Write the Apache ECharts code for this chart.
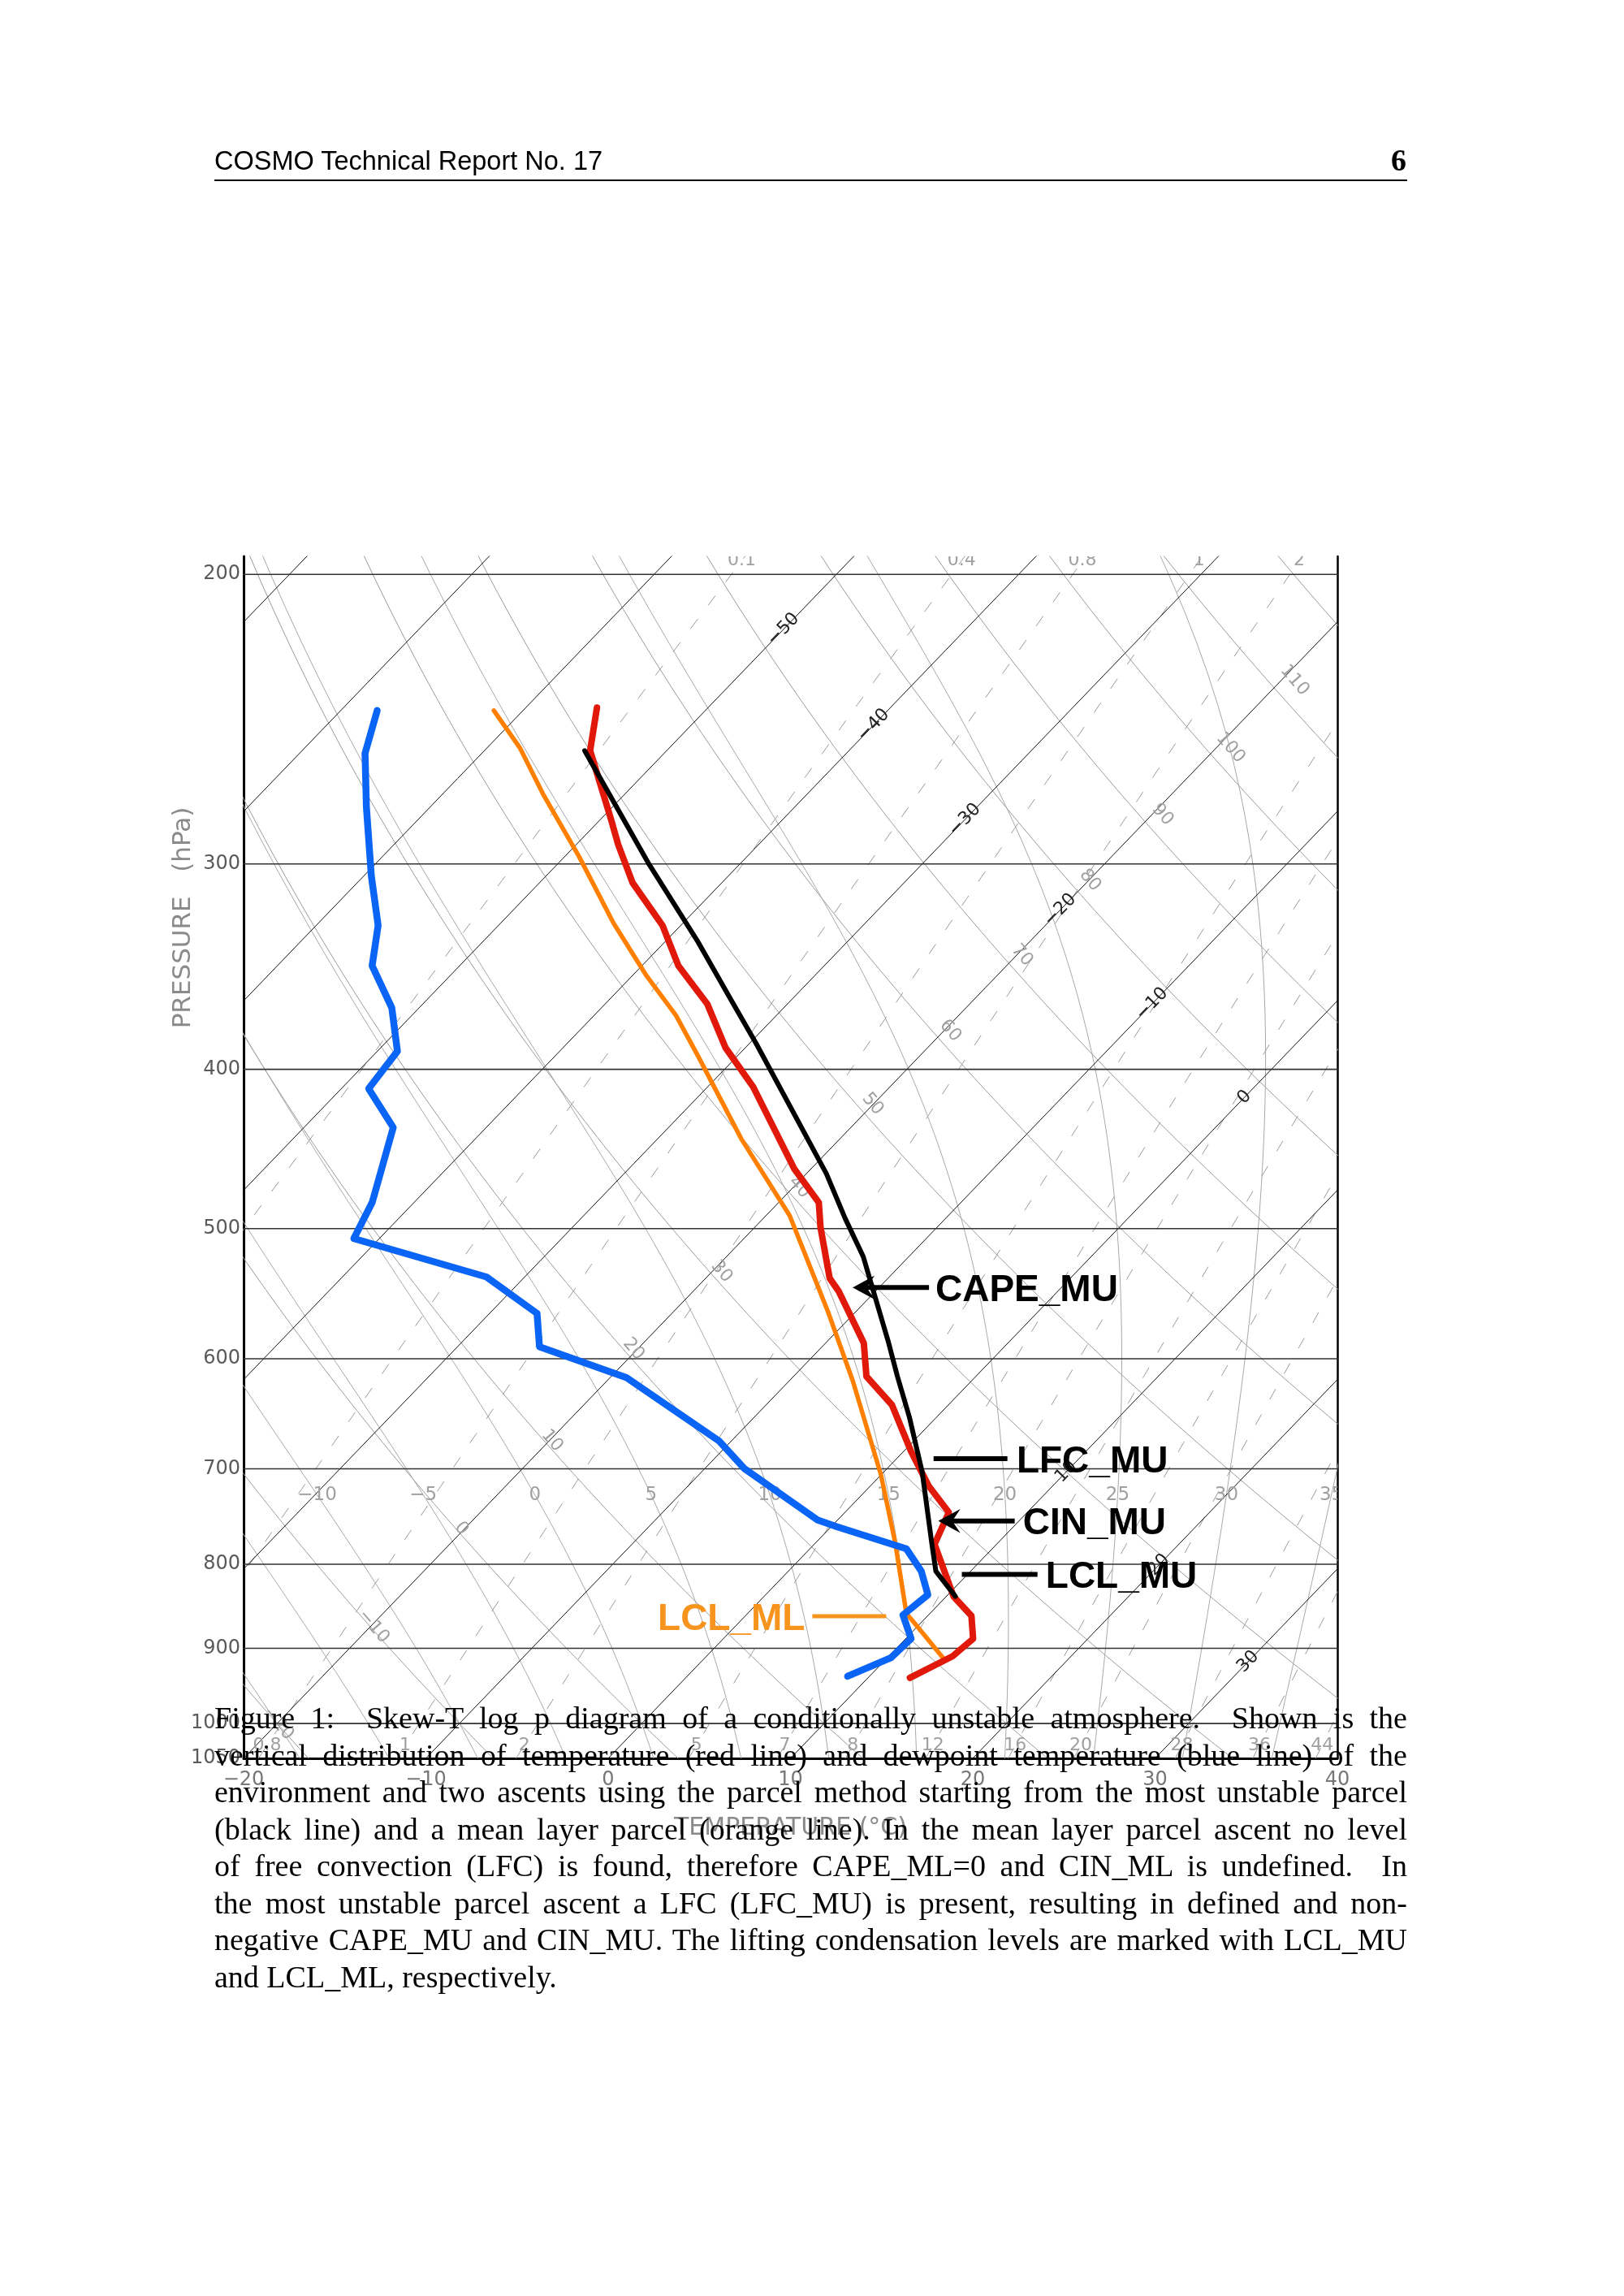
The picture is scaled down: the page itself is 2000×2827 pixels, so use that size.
<!DOCTYPE html>
<html>
<head>
<meta charset="utf-8">
<title>Skew-T log p diagram</title>
<script src="https://cdn.jsdelivr.net/npm/echarts@6/dist/echarts.min.js"></script>
<style>
  html, body { margin: 0; padding: 0; background: #fff; }
  #page { position: relative; width: 2000px; height: 2827px; overflow: hidden; }
  #chart { position: absolute; left: 0; top: 0; width: 2000px; height: 2827px; }
  .hdr { position: absolute; left: 264px; top: 181px; font-family: "Liberation Sans", Arial, sans-serif; font-size: 32.5px; line-height: 34px; }
  .pgno { position: absolute; right: 268px; top: 178px; font-family: "Liberation Serif", serif; font-weight: bold; font-size: 38px; line-height: 38px; }
  .rule { position: absolute; left: 264px; top: 221px; width: 1469px; height: 2px; background: #000; }
  #caption { position: absolute; left: 264px; top: 2093px; width: 1469px; font-family: "Liberation Serif", "Times New Roman", serif; font-size: 38px; line-height: 45.5px; color: #000; }
  #caption div { text-align: justify; text-align-last: justify; white-space: nowrap; }
  #caption div.last { text-align-last: left; }
  #probe { position: absolute; visibility: hidden; white-space: nowrap; font-family: "Liberation Serif", "Times New Roman", serif; }
</style>
</head>
<body>
<div id="page">
  <div id="chart"></div>
  <div class="hdr">COSMO Technical Report No. 17</div>
  <div class="pgno">6</div>
  <div class="rule"></div>
  <div id="caption">
    <div>Figure 1:&nbsp; Skew-T log p diagram of a conditionally unstable atmosphere.&nbsp; Shown is the</div>
    <div>vertical distribution of temperature (red line) and dewpoint temperature (blue line) of the</div>
    <div>environment and two ascents using the parcel method starting from the most unstable parcel</div>
    <div>(black line) and a mean layer parcel (orange line). In the mean layer parcel ascent no level</div>
    <div>of free convection (LFC) is found, therefore CAPE_ML=0 and CIN_ML is undefined.&nbsp; In</div>
    <div>the most unstable parcel ascent a LFC (LFC_MU) is present, resulting in defined and non-</div>
    <div>negative CAPE_MU and CIN_MU. The lifting condensation levels are marked with LCL_MU</div>
    <div class="last">and LCL_ML, respectively.</div>
  </div>
  <span id="probe"></span>
</div>
<script>
// environment sounding (temperature, °C / pressure, hPa)
const tempT = [-56.1, -54.2, -49.4, -47.7, -44.9, -41.0, -38.0, -34.4, -31.1, -27.5, -20.9, -17.8, -16.4, -13.2,
  -12.0, -7.9, -6.0, -3.1, 0.4, 3.2, 5.7, 6.6, 10.4, 12.4, 13.7, 13.5, 12.3];
const tempP = [241, 256, 282, 292, 308, 327, 346, 365, 388, 410, 460, 482, 499, 536,
  546, 587, 615, 640, 683, 717, 744, 778, 837, 860, 888, 910, 938];
// dewpoint
const dewT = [-68.0, -66.4, -63.5, -59.6, -56.6, -54.8, -51.5, -48.9, -48.5, -45.1, -42.3, -41.4, -32.1, -27.4,
  -25.5, -19.1, -10.7, -7.8, -1.1, 0.3, 5.3, 7.3, 8.9, 8.6, 10.3, 10.2, 8.8];
const dewP = [242, 257, 277, 305, 327, 346, 367, 390, 411, 434, 482, 507, 535, 563,
  590, 616, 673, 700, 752, 759, 783, 808, 835, 859, 888, 912, 936];
// most unstable parcel
const muT = [-54.5, -45.0, -38.3, -33.3, -29.6, -18.9, -15.5, -12.5, -10.1, -6.7, -4.3, -1.5, 2.1, 6.4, 8.1, 10.5];
const muP = [256, 300, 334, 363, 386, 463, 493, 520, 546, 585, 615, 651, 703, 777, 808, 837];
// mean layer parcel
const mlT = [-61.6, -58.2, -54.5, -49.2, -43.8, -39.2, -35.5, -32.1, -25.4, -18.7, -11.5, -6.5, 0.0, 4.4, 8.7, 10.4, 13.2];
const mlP = [242, 255, 272, 297, 326, 351, 371, 393, 441, 491, 562, 619, 706, 777, 857, 878, 914];

// background diagram
const isobars = [200, 300, 400, 500, 600, 700, 800, 900, 1000];
const pressureTicks = [200, 300, 400, 500, 600, 700, 800, 900, 1000, 1050];
const isotherms = [-90, -80, -70, -60, -50, -40, -30, -20, -10, 0, 10, 20, 30, 40];
const isothermLabels = [-50, -40, -30, -20, -10, 0, 10, 20, 30];
const isothermLabelP = [216, 247, 282, 320, 365, 416, 703, 801, 917];
const dryThetas = [-30, -20, -10, 0, 10, 20, 30, 40, 50, 60, 70, 80, 90, 100, 110, 120, 130];
const dryLabels = [110, 100, 90, 80, 70, 60, 50, 40, 30, 20, 10, 0, -10, -20];
const dryLabelP = [232, 255, 280, 307, 341, 379, 420, 472, 531, 592, 673, 761, 873, 1000];
const moistThetas = [-20, -15, -10, -5, 0, 5, 10, 15, 20, 25, 30, 35, 40];
const moistLabels = [-10, -5, 0, 5, 10, 15, 20, 25, 30, 35];
const mixRatios = [0.1, 0.4, 0.8, 1.5, 2.5, 5, 7, 9, 12, 16, 20, 28, 36, 44]; // g/kg
const mixLabels = ['0.1', '0.4', '0.8', '1', '2', '5', '7', '8', '12', '16', '20', '28', '36', '44'];

const P_BOT = 1050, P_TOP = 195;
const SKEW = 37.7; // °C shift per unit of ln p
const skx = (t, p) => t + SKEW * Math.log(P_BOT / p);
const minus = (v) => (v < 0 ? '\u2212' + (-v) : String(v));

// thermodynamics for the moist adiabats / mixing ratio lines
const Rd = 287.04, Cp = 1005.7, Lv = 2.501e6, EPS = 0.622;
const es = (tk) => 6.112 * Math.exp(17.67 * (tk - 273.15) / (tk - 29.65));
function lapse(tk, p) {
  const e = es(tk);
  const rs = EPS * e / (p - e);
  return (Rd * tk + Lv * rs) / (p * (Cp + Lv * Lv * rs * EPS / (Rd * tk * tk)));
}
function moistCurve(thw) {
  const up = [], down = [];
  let t = thw + 273.15, p = 1000;
  while (p > 194) {
    if (p % 10 === 0) up.push([t - 273.15, p]);
    const k1 = lapse(t, p), k2 = lapse(t - 2 * k1, p - 2);
    t -= k1 + k2; p -= 2;
  }
  up.push([t - 273.15, p]);
  t = thw + 273.15; p = 1000;
  while (p < 1052) {
    const k1 = lapse(t, p), k2 = lapse(t + 2 * k1, p + 2);
    t += k1 + k2; p += 2;
    if (p % 10 === 0) down.push([t - 273.15, p]);
  }
  return down.reverse().concat(up);
}
function moistAt(thw, pt) {
  let t = thw + 273.15, p = 1000;
  while (p > pt) {
    const k1 = lapse(t, p), k2 = lapse(t - 2 * k1, p - 2);
    t -= k1 + k2; p -= 2;
  }
  return t - 273.15;
}
const dryT = (th, p) => (th + 273.15) * Math.pow(p / 1000, 0.2857) - 273.15;
function dewFromMix(w, p) {
  const l = Math.log((w * p / (622 + w)) / 6.112);
  return 243.5 * l / (17.67 - l);
}

const levels = [];
for (let p = P_BOT; p >= 190; p -= 5) levels.push(p);

const series = [];
function addLine(pts, color, width, z, dash) {
  series.push({
    type: 'line', data: pts, showSymbol: false, symbol: 'none', silent: true, clip: true, z: z,
    lineStyle: { color: color, width: width, type: dash || 'solid', cap: 'round', join: 'round' },
  });
}

isotherms.forEach((t) => addLine([[skx(t, P_BOT), P_BOT], [skx(t, 190), 190]], '#111', 1, 2));
dryThetas.forEach((th) => addLine(levels.map((p) => [skx(dryT(th, p), p), p]), '#9a9a9a', 1, 1));
moistThetas.forEach((thw) => addLine(moistCurve(thw).map((d) => [skx(d[0], d[1]), d[1]]), '#a8a8a8', 1, 1));
mixRatios.forEach((w) => addLine(levels.filter((p, i) => i % 3 === 0 || p < 195)
  .map((p) => [skx(dewFromMix(w, p), p), p]), '#9a9a9a', 1, 1, [14, 22]));
isobars.forEach((p) => addLine([[-20, p], [40, p]], '#333', 1.6, 3));

// sounding curves
const zip = (ts, ps) => ts.map((t, i) => [skx(t, ps[i]), ps[i]]);
addLine(zip(mlT, mlP), '#ff8000', 5.5, 10);
addLine(zip(dewT, dewP), '#0a64f5', 8.5, 11);
addLine(zip(tempT, tempP), '#e0190a', 8, 12);
addLine(zip(muT, muP), '#000', 6, 13);

// text labels placed in data coordinates
function addLabels(items, o) {
  series.push({
    type: 'custom', silent: true, clip: !!o.clip, z: o.z || 5,
    data: items.map((it, i) => [it.x, it.p, i]),
    renderItem: (params, api) => {
      const it = items[api.value(2)];
      const pt = api.coord([api.value(0), api.value(1)]);
      return {
        type: 'text', x: pt[0] + (o.dx || 0) + (it.dx || 0), y: pt[1], rotation: o.rotation || 0,
        style: { text: it.text, fill: o.color, fontSize: o.size || 22, fontFamily: 'DejaVu Sans',
          align: o.align || 'center', verticalAlign: 'middle' },
      };
    },
  });
}
addLabels(isothermLabels.map((t, i) => ({ x: skx(t, isothermLabelP[i]), p: isothermLabelP[i], text: minus(t) })),
  { color: '#222', rotation: 0.805, clip: true });
// dry adiabat labels sit a little to the right of their lines, more so higher up
addLabels(dryLabels.map((th, i) => ({
  x: skx(dryT(th, dryLabelP[i]), dryLabelP[i]), p: dryLabelP[i], text: minus(th),
  dx: 22 * Math.log(P_BOT / dryLabelP[i]),
})), { color: '#a0a0a0', rotation: -0.86, clip: true });
addLabels(moistLabels.map((thw) => ({ x: skx(moistAt(thw, 726), 726), p: 726, text: minus(thw) })),
  { color: '#a0a0a0', size: 23, clip: true });
addLabels(mixRatios.map((w, i) => ({ x: skx(dewFromMix(w, 196.2), 196.2), p: 196.2, text: mixLabels[i] })),
  { color: '#a0a0a0', clip: true });
addLabels(mixRatios.map((w, i) => ({ x: skx(dewFromMix(w, 1031), 1031), p: 1031, text: mixLabels[i] })),
  { color: '#a0a0a0', clip: true });
addLabels(pressureTicks.map((p) => ({ x: -20, p: p, text: String(p) })),
  { color: '#5a5a5a', align: 'right', dx: -4, size: 24 });

// annotations: horizontal markers with optional arrowheads
const notes = [
  { text: 'CAPE_MU', p: 543, x1: 13.5, x2: 17.6, tx: 17.95, arrow: true, color: '#000' },
  { text: 'LFC_MU', p: 690, x1: 17.85, x2: 21.9, tx: 22.4, arrow: false, color: '#000' },
  { text: 'CIN_MU', p: 753, x1: 18.2, x2: 22.3, tx: 22.75, arrow: true, color: '#000' },
  { text: 'LCL_MU', p: 811.6, x1: 19.4, x2: 23.55, tx: 24.0, arrow: false, color: '#000' },
  { text: 'LCL_ML', p: 860.4, x1: 11.2, x2: 15.25, tx: 10.8, arrow: false, color: '#f7941d', right: true },
];
series.push({
  type: 'custom', silent: true, z: 20,
  data: notes.map((n, i) => [n.x1, n.p, i]),
  renderItem: (params, api) => {
    const n = notes[api.value(2)];
    const a = api.coord([n.x1, n.p]);
    const b = api.coord([n.x2, n.p]);
    const t = api.coord([n.tx, n.p]);
    const lw = n.color === '#000' ? 6 : 5;
    const kids = [{
      type: 'line', shape: { x1: n.arrow ? a[0] + 12 : a[0], y1: a[1], x2: b[0], y2: b[1] },
      style: { stroke: n.color, lineWidth: lw },
    }];
    if (n.arrow) {
      kids.push({
        type: 'polygon',
        shape: { points: [[a[0], a[1]], [a[0] + 22, a[1] - 12], [a[0] + 14, a[1]], [a[0] + 22, a[1] + 12]] },
        style: { fill: n.color, stroke: n.color, lineWidth: 2 },
      });
    }
    kids.push({
      type: 'text', x: t[0], y: t[1] + 4,
      style: { text: n.text, fill: n.color, fontSize: 46, fontWeight: 'bold', fontFamily: 'Liberation Sans',
        align: n.right ? 'right' : 'left', verticalAlign: 'middle' },
    });
    return { type: 'group', children: kids };
  },
});

const yBase = {
  type: 'log', logBase: 10, min: P_TOP, max: P_BOT, inverse: true,
  axisTick: { show: false }, axisLabel: { show: false }, splitLine: { show: false },
};
const chart = echarts.init(document.getElementById('chart'), null, { renderer: 'canvas' });
chart.setOption({
  animation: false,
  grid: { left: 300, right: 353, top: 685, bottom: 662, containLabel: false },
  xAxis: {
    type: 'value', min: -20, max: 40, interval: 10,
    name: 'TEMPERATURE (\u00b0C)', nameLocation: 'middle', nameGap: 71,
    nameTextStyle: { color: '#8a8a8a', fontSize: 30, fontFamily: 'DejaVu Sans' },
    axisLine: { show: true, onZero: false, lineStyle: { color: '#000', width: 3 } },
    axisTick: { show: false }, splitLine: { show: false },
    axisLabel: { color: '#777', fontSize: 24, fontFamily: 'DejaVu Sans', margin: 15, formatter: minus },
  },
  yAxis: [
    Object.assign({}, yBase, { position: 'left', axisLine: { show: true, onZero: false, lineStyle: { color: '#000', width: 3 } } }),
    Object.assign({}, yBase, { position: 'right', axisLine: { show: true, onZero: false, lineStyle: { color: '#000', width: 2.5 } } }),
  ],
  graphic: [{
    type: 'text', x: 226, y: 1130, rotation: Math.PI / 2, silent: true,
    style: { text: 'PRESSURE   (hPa)', fill: '#8a8a8a', fontSize: 31, fontFamily: 'DejaVu Sans', align: 'center', verticalAlign: 'middle' },
  }],
  series: series,
});

// shrink any caption line that would not fit the text width
const probe = document.getElementById('probe');
document.querySelectorAll('#caption div').forEach((line) => {
  let size = 38;
  probe.style.fontSize = size + 'px';
  probe.innerHTML = line.innerHTML;
  while (probe.getBoundingClientRect().width > 1466 && size > 30) {
    size -= 0.25;
    probe.style.fontSize = size + 'px';
  }
  line.style.fontSize = size + 'px';
});
</script>
</body>
</html>
